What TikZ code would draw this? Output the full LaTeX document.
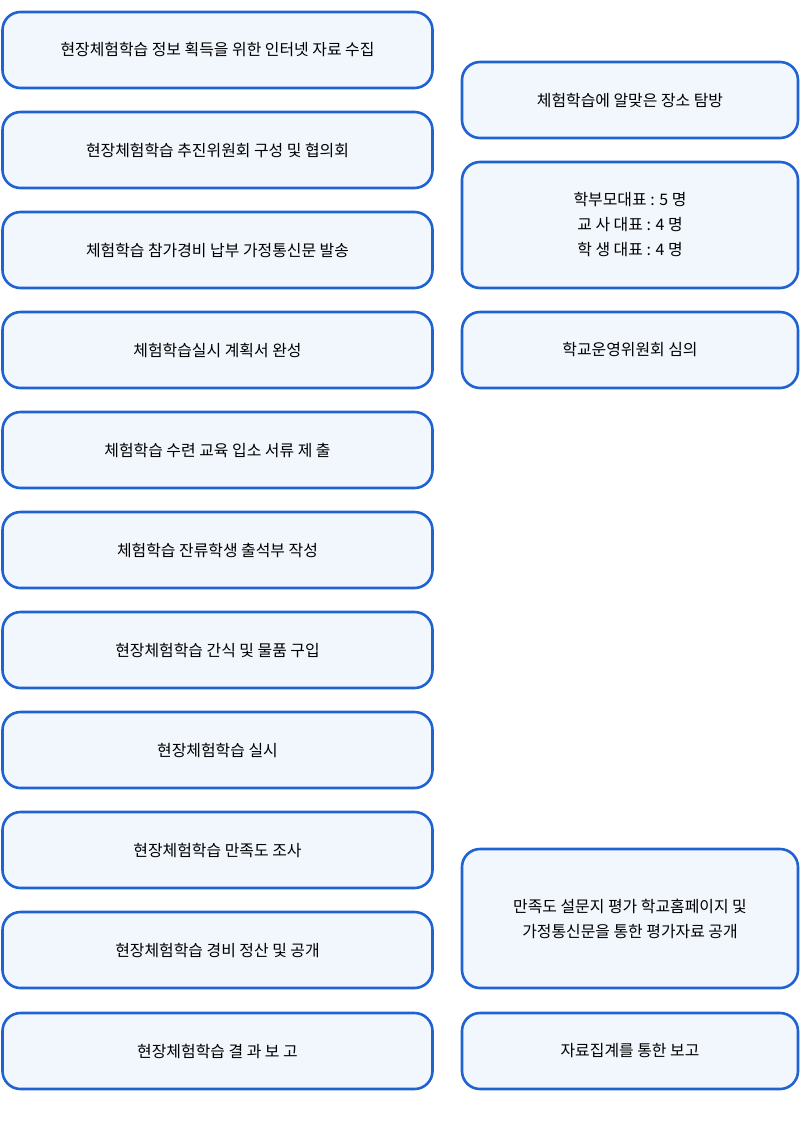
\documentclass[tikz,border=0pt]{standalone}
\usepackage{fontspec}
\setmainfont{Noto Sans CJK KR}
\usepackage{xcolor}
\usepackage{tikz}
\usetikzlibrary{calc, positioning}

\definecolor{azulborda}{HTML}{1F62D2}
\definecolor{azulfundo}{HTML}{F2F7FE}

\tikzset{
  caixa/.style={draw=azulborda, fill=azulfundo, line width=2.6pt, rounded corners=18pt,
    minimum width=430pt, minimum height=76pt, inner sep=0pt, align=center,
    font=\fontsize{15.9pt}{25pt}\selectfont},
  caixad/.style={caixa, minimum width=336pt}
}

\begin{document}
\begin{tikzpicture}[x=1pt, y=-1pt]
% Fixando a area da figura:
\useasboundingbox (0,0) rectangle (802,1125);

% Coluna da esquerda (etapas):
\node[caixa] (e1) at (217.5,50) {현장체험학습 정보 획득을 위한 인터넷 자료 수집};
\node[caixa] (e2) at (217.5,150) {현장체험학습 추진위원회 구성 및 협의회};
\node[caixa] (e3) at (217.5,250) {체험학습 참가경비 납부 가정통신문 발송};
\node[caixa] (e4) at (217.5,350) {체험학습실시 계획서 완성};
\node[caixa] (e5) at (217.5,450) {체험학습 수련 교육 입소 서류 제 출};
\node[caixa] (e6) at (217.5,550) {체험학습 잔류학생 출석부 작성};
\node[caixa] (e7) at (217.5,650) {현장체험학습 간식 및 물품 구입};
\node[caixa] (e8) at (217.5,750) {현장체험학습 실시};
\node[caixa] (e9) at (217.5,850) {현장체험학습 만족도 조사};
\node[caixa] (e10) at (217.5,950) {현장체험학습 경비 정산 및 공개};
\node[caixa] (e11) at (217.5,1051) {현장체험학습 결 과 보 고};

% Coluna da direita (detalhes):
\node[caixad] (d1) at (630,100) {체험학습에 알맞은 장소 탐방};
\node[caixad, minimum height=126pt] (d2) at (630,225) {학부모대표 : 5 명\\교 사 대표 : 4 명\\학 생 대표 : 4 명};
\node[caixad] (d3) at (630,350) {학교운영위원회 심의};
\node[caixad, minimum height=139pt] (d4) at (630,918.5) {만족도 설문지 평가 학교홈페이지 및\\가정통신문을 통한 평가자료 공개};
\node[caixad] (d5) at (630,1051) {자료집계를 통한 보고};
\end{tikzpicture}
\end{document}
